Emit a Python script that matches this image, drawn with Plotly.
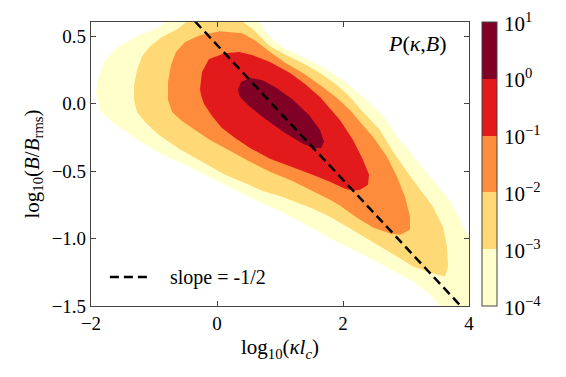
import plotly.graph_objects as go

# contour levels of P(kappa, B) (log10 kappa l_c, log10 B/B_rms)
lvl_edges = [-4, -3, -2, -1, 0, 1]
lvl_colors = ["#ffffcc", "#fed976", "#fd8d3c", "#e31a1c", "#800026"]

# > 1e-4
lvl1_x = [-1.857, -1.921, -1.873, -1.778, -1.556, -1.238, -0.921, -0.762, 0.651, 0.778,
          0.921, 1.095, 1.365, 1.635, 1.905, 2.159, 2.429, 2.667, 2.873, 3.063, 3.222,
          3.429, 3.651, 3.810, 3.905, 4.02, 4.02, 3.635,
          3.381, 3.111, 2.857, 2.587, 2.317, 2.063, 1.794, 1.524, 1.238, 0.984, 0.667,
          0.286, -0.079, -0.508, -0.921, -1.302, -1.667]
lvl1_y = [-0.047, 0.086, 0.212, 0.323, 0.426, 0.507, 0.567, 0.62, 0.62, 0.530,
          0.456, 0.404, 0.345, 0.278, 0.204, 0.116, 0.005, -0.106, -0.254, -0.357, -0.453,
          -0.564, -0.690, -0.808, -0.912, -1.008, -1.55, -1.55,
          -1.414, -1.318, -1.252, -1.185, -1.119, -1.060, -1.000, -0.926, -0.853, -0.793, -0.727,
          -0.638, -0.550, -0.453, -0.365, -0.254, -0.136]

# > 1e-3
lvl2_x = [-1.270, -1.317, -1.317, -1.270, -1.190, -1.063, -0.873, -0.635, -0.444, 0.365,
          0.556, 0.714, 0.841, 1.095, 1.365, 1.635, 1.905, 2.111, 2.317, 2.587, 2.794,
          3.016, 3.222, 3.429, 3.587, 3.651, 3.667, 3.619,
          3.381, 3.111, 2.857, 2.587, 2.317, 2.063, 1.794, 1.524, 1.238, 0.984, 0.714,
          0.508, 0.127, -0.238, -0.603, -0.921, -1.143]
lvl2_y = [-0.062, 0.027, 0.138, 0.249, 0.352, 0.426, 0.493, 0.552, 0.62, 0.62,
          0.559, 0.485, 0.426, 0.360, 0.300, 0.227, 0.138, 0.049, -0.062, -0.195, -0.357,
          -0.505, -0.638, -0.764, -0.912, -1.060, -1.207, -1.281,
          -1.252, -1.207, -1.133, -1.060, -0.986, -0.912, -0.838, -0.779, -0.727, -0.683, -0.646,
          -0.601, -0.527, -0.431, -0.335, -0.232, -0.136]

# > 1e-2
lvl3_x = [-0.714, -0.778, -0.778, -0.730, -0.651, -0.508, -0.270, 0.048, 0.397, 0.603,
          0.841, 1.095, 1.365, 1.635, 1.905, 2.111, 2.270, 2.476, 2.698, 2.857, 2.984,
          3.063, 3.063, 2.905,
          2.746, 2.476, 2.222, 1.952, 1.794, 1.476, 1.190, 0.841, 0.524, 0.206, -0.111,
          -0.349, -0.556]
lvl3_y = [-0.062, 0.027, 0.160, 0.286, 0.382, 0.456, 0.507, 0.537, 0.522, 0.470,
          0.382, 0.300, 0.227, 0.138, 0.042, -0.047, -0.136, -0.246, -0.394, -0.542, -0.690,
          -0.838, -0.934, -0.971,
          -0.963, -0.919, -0.845, -0.756, -0.712, -0.638, -0.572, -0.505, -0.431, -0.350, -0.269,
          -0.195, -0.128]

# > 1e-1
lvl4_x = [-0.254, -0.270, -0.238, -0.127, 0.127, 0.349, 0.556, 0.841, 1.159, 1.397,
          1.635, 1.952, 2.159, 2.317, 2.413, 2.397, 2.270, 2.159,
          2.032, 1.794, 1.476, 1.190, 0.841, 0.524, 0.286, 0.079, -0.079, -0.206]
lvl4_y = [0.064, 0.108, 0.234, 0.330, 0.374, 0.382, 0.360, 0.308, 0.227, 0.145,
          0.049, -0.121, -0.269, -0.416, -0.527, -0.601, -0.638, -0.646,
          -0.631, -0.579, -0.520, -0.468, -0.409, -0.328, -0.254, -0.180, -0.091, -0.003]

# > 1e0
lvl5_x = [0.333, 0.381, 0.524, 0.714, 0.921, 1.190, 1.460, 1.635, 1.698, 1.651,
          1.524, 1.365, 1.079, 0.762, 0.508, 0.365]
lvl5_y = [0.101, 0.160, 0.190, 0.175, 0.123, 0.034, -0.084, -0.195, -0.283, -0.328,
          -0.328, -0.298, -0.217, -0.113, -0.017, 0.049]

slope = -0.5
intercept = 0.435
line_x = [-0.5, 4.1]

cb_ticks = [-4, -3, -2, -1, 0, 1]
cb_text = ["10<sup>\u22124</sup>", "10<sup>\u22123</sup>", "10<sup>\u22122</sup>",
           "10<sup>\u22121</sup>", "10<sup>0</sup>", "10<sup>1</sup>"]

FONT = "Liberation Serif"

fig = go.Figure()

levels = [(lvl1_x, lvl1_y), (lvl2_x, lvl2_y), (lvl3_x, lvl3_y), (lvl4_x, lvl4_y), (lvl5_x, lvl5_y)]
for (px, py), col in zip(levels, lvl_colors):
    fig.add_trace(go.Scatter(x=px, y=py, mode="lines", fill="toself", fillcolor=col,
                             line=dict(width=0, color=col), hoverinfo="skip", showlegend=False))

dash_style = dict(color="black", width=2.5, dash="9px,5px")
fig.add_trace(go.Scatter(x=line_x, y=[intercept + slope * v for v in line_x], mode="lines",
                         line=dash_style, name="slope = -1/2", showlegend=False))

# legend drawn by hand so the sample line is as long as in the original
fig.add_shape(type="line", xref="paper", yref="paper", x0=0.05, x1=0.161, y0=0.102, y1=0.102,
              line=dash_style)
fig.add_annotation(x=0.205, y=0.102, xref="paper", yref="paper", xanchor="left", yanchor="middle",
                   text="slope = -1/2", showarrow=False,
                   font=dict(family=FONT, size=20, color="black"))

# discrete colour bar
n = len(lvl_colors)
cscale = []
for i, c in enumerate(lvl_colors):
    cscale.append([i / n, c])
    cscale.append([(i + 1) / n, c])
fig.add_trace(go.Scatter(x=[1.0], y=[0.0], mode="markers", hoverinfo="skip", showlegend=False,
                         marker=dict(size=1, opacity=0, color=[-1], colorscale=cscale,
                                     cmin=lvl_edges[0], cmax=lvl_edges[-1], showscale=True,
                                     colorbar=dict(x=1.034, xanchor="left", xpad=0, y=0.5,
                                                   yanchor="middle", len=1, lenmode="fraction",
                                                   ypad=0, thickness=15, outlinewidth=1,
                                                   outlinecolor="#444", showticklabels=False,
                                                   ticks=""))))

# colour bar labels (the top one gets dropped by plotly, so write them all as text)
span = lvl_edges[-1] - lvl_edges[0]
for v, t in zip(cb_ticks, cb_text):
    fig.add_annotation(x=1.088, y=(v - lvl_edges[0]) / span, xref="paper", yref="paper",
                       xanchor="left", yanchor="middle", text=t, showarrow=False,
                       font=dict(family=FONT, size=21, color="black"))

fig.add_annotation(x=0.947, y=0.925, xref="paper", yref="paper", xanchor="right", yanchor="middle",
                   text="<i>P</i>(<i>\u03ba</i>,<i>B</i>)", showarrow=False,
                   font=dict(family=FONT, size=22, color="black"))

axis_common = dict(showgrid=False, zeroline=False, showline=True, linecolor="#444", linewidth=1.2,
                   mirror="ticks", ticks="inside", ticklen=5, tickcolor="#444",
                   tickfont=dict(family=FONT, size=19, color="black"))

fig.update_xaxes(range=[-2, 4], dtick=2, tick0=0,
                 title=dict(text="log<sub>10</sub>(<i>\u03bal<sub>c</sub></i>)", standoff=6,
                            font=dict(family=FONT, size=21, color="black")), **axis_common)
fig.update_yaxes(range=[-1.5, 0.605], dtick=0.5, tick0=0, tickformat=".1f",
                 title=dict(text="log<sub>10</sub>(<i>B</i>/<i>B</i><sub>rms</sub>)", standoff=6,
                            font=dict(family=FONT, size=21, color="black")), **axis_common)

# page body has an 8px margin, so shift the plot area up/left by that much
fig.update_layout(width=566, height=377, margin=dict(l=83, r=105, t=14, b=79),
                  plot_bgcolor="white", paper_bgcolor="white",
                  font=dict(family=FONT, color="black"), showlegend=False)

fig.write_html("out.html")
